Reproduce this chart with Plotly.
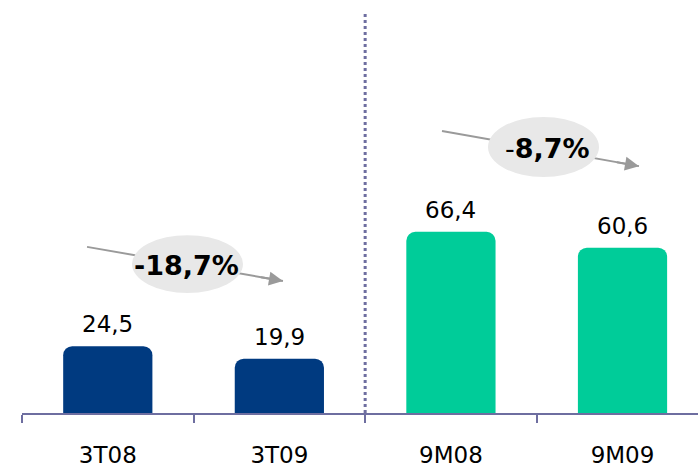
import plotly.graph_objects as go

categories = ["3T08", "3T09", "9M08", "9M09"]
values = [24.5, 19.9, 66.4, 60.6]
value_labels = ["24,5", "19,9", "66,4", "60,6"]
bar_colors = ["#003A80", "#003A80", "#00CC99", "#00CC99"]
changes = ["<b>-18,7%</b>", "-<b>8,7%</b>"]

FONT = "DejaVu Sans"
AXIS_COLOR = "#6E6EA0"
ARROW_COLOR = "#9A9A9A"
ELLIPSE_COLOR = "#E8E8E8"

fig = go.Figure()
fig.add_trace(go.Bar(
    x=categories, y=values,
    marker=dict(color=bar_colors, line=dict(width=0), cornerradius=9),
    width=0.52, hoverinfo="skip",
))

annotations = []
for i, (v, lab) in enumerate(zip(values, value_labels)):
    annotations.append(dict(x=i, y=v, text=lab, showarrow=False, xref="x", yref="y",
                            yanchor="bottom", yshift=7,
                            font=dict(family=FONT, size=23, color="black")))

shapes = []
# separator
shapes.append(dict(type="line", xref="x", yref="paper", x0=1.5, x1=1.5, y0=0, y1=1,
                   line=dict(color=AXIS_COLOR, width=3, dash="dot"), layer="above"))

# change callouts: (tail x,y), (tip x,y), ellipse box, text pos
callouts = [
    dict(tail=(-0.121, 60.9), tip=(1.021, 48.4), ell=(0.141, 44.0, 0.788, 65.2), txt=(0.459, 54.2)),
    dict(tail=(1.948, 103.4), tip=(3.096, 90.5), ell=(2.216, 86.5, 2.863, 108.5), txt=(2.56, 97.1)),
]
for c, label in zip(callouts, changes):
    (tx, ty), (hx, hy) = c["tail"], c["tip"]
    shapes.append(dict(type="line", xref="x", yref="y", x0=tx, y0=ty, x1=hx, y1=hy,
                       line=dict(color=ARROW_COLOR, width=2), layer="above"))
    x0, y0, x1, y1 = c["ell"]
    shapes.append(dict(type="circle", xref="x", yref="y", x0=x0, y0=y0, x1=x1, y1=y1,
                       fillcolor=ELLIPSE_COLOR, line=dict(width=0), layer="above"))
    # arrow head
    dx, dy = hx - tx, hy - ty
    annotations.append(dict(x=hx, y=hy, ax=hx - dx * 0.12, ay=hy - dy * 0.12,
                            axref="x", ayref="y", xref="x", yref="y", text="",
                            showarrow=True, arrowhead=2, arrowsize=1.4, arrowwidth=2,
                            arrowcolor=ARROW_COLOR))
    annotations.append(dict(x=c["txt"][0], y=c["txt"][1], text=label, showarrow=False,
                            xref="x", yref="y",
                            font=dict(family=FONT, size=27, color="black")))

fig.update_layout(
    width=698, height=470,
    margin=dict(l=22, r=0, t=12, b=57, autoexpand=False),
    paper_bgcolor="white", plot_bgcolor="white",
    showlegend=False,
    xaxis=dict(type="category", range=[-0.5, 3.44], automargin=False,
               showline=True, linecolor=AXIS_COLOR, linewidth=2,
               ticks="outside", tickson="boundaries", ticklen=8, tickwidth=2,
               tickcolor=AXIS_COLOR, showgrid=False, zeroline=False,
               tickfont=dict(family=FONT, size=23, color="black"), ticklabelstandoff=20),
    yaxis=dict(range=[0, 147], visible=False, showgrid=False, zeroline=False,
               automargin=False),
    annotations=annotations, shapes=shapes,
)

fig.write_html("out.html",
               config={"displayModeBar": False},
               post_script="document.body.style.margin='0';document.body.style.overflow='hidden';")
